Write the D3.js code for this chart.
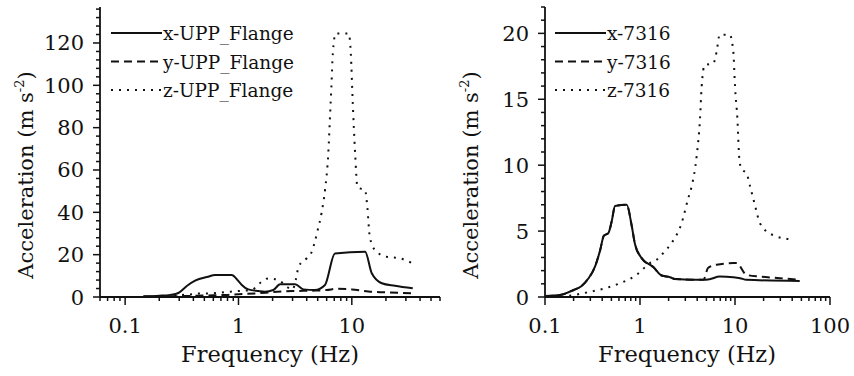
<!DOCTYPE html>
<html>
<head>
<meta charset="utf-8">
<script src="https://cdn.jsdelivr.net/npm/d3@7"></script>
<style>
  body { margin: 0; background: #fff; }
  svg text { font-family: "DejaVu Serif", serif; fill: #111; }
</style>
</head>
<body>
<div id="chart"></div>
<script>
// ---- left panel: UPP_Flange ----
const upFreqX = [0.145, 0.2, 0.25, 0.295, 0.35, 0.414, 0.54, 0.62, 0.87, 1.0, 1.07, 1.22, 1.5, 1.71, 2.03, 2.33, 3.16, 3.74, 4.73, 5.8, 7.1, 13.1, 15.0, 18.4, 24, 34.5];
const upValX = [0.3, 0.6, 1.0, 1.9, 5.2, 7.7, 9.6, 10.4, 10.4, 7.5, 5.7, 3.6, 2.8, 2.5, 3.3, 6.0, 6.0, 3.6, 3.3, 5.7, 20.6, 21.4, 11.2, 6.5, 5.3, 4.1];
const upFreqY = [0.145, 0.3, 0.5, 0.8, 1.0, 1.5, 2.0, 3.0, 4.5, 6.0, 7.5, 10, 14, 20, 34.5];
const upValY = [0.2, 0.4, 0.7, 1.0, 1.3, 1.8, 2.3, 2.8, 3.0, 3.3, 3.9, 3.6, 2.6, 2.2, 1.7];
const upFreqZ = [0.27, 0.3, 0.39, 0.47, 0.55, 0.66, 0.81, 0.99, 1.3, 1.6, 1.83, 2.25, 2.66, 3.0, 3.2, 3.4, 4.0, 4.4, 5.0, 5.4, 5.8, 6.2, 6.4, 6.6, 6.8, 7.2, 9.4, 9.8, 10.2, 10.7, 11.2, 11.8, 13.1, 13.7, 14.4, 16, 20.3, 26.4, 34.5];
const upValZ = [0.7, 0.9, 1.3, 1.7, 1.7, 2.0, 2.4, 2.8, 3.3, 7.2, 8.8, 8.0, 4.9, 3.5, 8.0, 14.5, 18.3, 21, 31.6, 39.5, 50.5, 67.8, 83.5, 99, 115, 124.5, 124.5, 115, 91.4, 67.8, 52, 51.3, 50.5, 42.6, 28.5, 22.2, 19, 18.3, 15.9];

// ---- right panel: 7316 ----
const s7FreqX = [0.1, 0.144, 0.2, 0.243, 0.286, 0.336, 0.379, 0.417, 0.464, 0.504, 0.546, 0.725, 0.818, 0.886, 1.04, 1.38, 1.69, 2.07, 2.33, 4.66, 5.4, 6.9, 9.6, 11.3, 13.2, 48];
const s7ValX = [0.08, 0.15, 0.53, 0.84, 1.4, 2.3, 3.5, 4.65, 4.85, 5.75, 6.9, 7.0, 5.4, 4.0, 2.95, 2.27, 1.63, 1.5, 1.37, 1.3, 1.35, 1.55, 1.5, 1.43, 1.3, 1.22];
const s7FreqY = [0.1, 0.144, 0.2, 0.243, 0.286, 0.336, 0.379, 0.417, 0.464, 0.504, 0.546, 0.725, 0.818, 0.886, 1.04, 1.38, 1.69, 2.07, 2.33, 4.66, 5.2, 6.4, 9.6, 10.4, 13.2, 18.3, 29.8, 48];
const s7ValY = [0.08, 0.15, 0.53, 0.84, 1.4, 2.3, 3.5, 4.65, 4.85, 5.75, 6.9, 7.0, 5.4, 4.0, 2.95, 2.27, 1.63, 1.5, 1.37, 1.3, 2.2, 2.45, 2.57, 2.57, 1.68, 1.55, 1.43, 1.3];
const s7FreqZ = [0.18, 0.2, 0.3, 0.43, 0.62, 0.92, 1.27, 1.5, 1.76, 2.2, 2.74, 3.22, 3.5, 3.95, 4.28, 4.46, 4.8, 5.9, 6.4, 6.9, 8.8, 9.6, 10, 10.6, 11.1, 11.7, 13.2, 14.4, 16.3, 18.3, 25, 41];
const s7ValZ = [0.1, 0.15, 0.4, 0.66, 1.05, 1.68, 2.57, 2.82, 3.34, 4.2, 5.6, 7.5, 8.4, 10.7, 13.5, 16, 17.6, 17.7, 18.6, 19.9, 19.9, 18.6, 16, 13.5, 10.5, 9.7, 9.4, 8.4, 6.9, 5.6, 4.7, 4.35];

const leftNames = ['x-UPP_Flange', 'y-UPP_Flange', 'z-UPP_Flange'];
const rightNames = ['x-7316', 'y-7316', 'z-7316'];
const leftYTicks = [0, 20, 40, 60, 80, 100, 120];
const rightYTicks = [0, 5, 10, 15, 20];
const xTickLabels = [0.1, 1, 10, 100];

const W = 854, H = 376;
const dashes = [null, '8,5', '2,6'];

const svg = d3.select('#chart').append('svg')
  .attr('width', W).attr('height', H);

function zip(fs, vs) {
  return fs.map((f, i) => ({ f: f, v: vs[i] }));
}

function drawPanel(opt) {
  const x = d3.scaleLog().domain(opt.xDomain).range([opt.left, opt.right]);
  const y = d3.scaleLinear().domain(opt.yDomain).range([297, 7]);
  const g = svg.append('g');

  // x axis: major + minor log ticks, outward
  const lo = opt.xDomain[0], hi = opt.xDomain[1];
  const minor = [];
  for (let e = -2; e <= 2; e++) {
    for (let k = 1; k <= 9; k++) {
      const v = k * Math.pow(10, e);
      if (v >= lo * 0.999 && v <= hi * 1.001) minor.push(v);
    }
  }
  g.append('line')
    .attr('x1', opt.left).attr('x2', opt.right)
    .attr('y1', 297).attr('y2', 297)
    .attr('stroke', '#111').attr('stroke-width', 1.8);
  g.selectAll('.xt').data(minor).join('line')
    .attr('x1', (d) => x(d)).attr('x2', (d) => x(d))
    .attr('y1', 297)
    .attr('y2', (d) => (xTickLabels.includes(+d.toPrecision(3)) ? 305 : 301))
    .attr('stroke', '#111').attr('stroke-width', 1.5);
  g.selectAll('.xl').data(xTickLabels.filter((d) => d >= lo && d <= hi * 1.001)).join('text')
    .attr('x', (d) => x(d)).attr('y', 333)
    .attr('text-anchor', 'middle')
    .style('font-size', '21px')
    .text((d) => String(d));

  // y axis
  const yMinor = d3.range(0, opt.yDomain[1] + 0.001, opt.yMinorStep);
  g.append('line')
    .attr('x1', opt.left).attr('x2', opt.left)
    .attr('y1', 297).attr('y2', 7)
    .attr('stroke', '#111').attr('stroke-width', 1.8);
  g.selectAll('.yt').data(yMinor).join('line')
    .attr('x1', (d) => (opt.yTicks.includes(Math.round(d)) && Math.abs(d - Math.round(d)) < 1e-6 ? opt.left - 7 : opt.left - 4))
    .attr('x2', opt.left)
    .attr('y1', (d) => y(d)).attr('y2', (d) => y(d))
    .attr('stroke', '#111').attr('stroke-width', 1.5);
  g.selectAll('.yl').data(opt.yTicks).join('text')
    .attr('x', opt.left - 16).attr('y', (d) => y(d) + 7.5)
    .attr('text-anchor', 'end')
    .style('font-size', '21px')
    .text((d) => String(d));

  // axis titles
  g.append('text')
    .attr('x', opt.xTitleX).attr('y', 362)
    .attr('text-anchor', 'middle')
    .style('font-size', '22.5px')
    .text('Frequency (Hz)');
  const yt = g.append('text')
    .attr('transform', `translate(${opt.left - 67},175) rotate(-90)`)
    .attr('text-anchor', 'middle')
    .style('font-size', '21px');
  yt.append('tspan').text('Acceleration (m s');
  yt.append('tspan').attr('dy', -9).style('font-size', '13px').text('-2');
  yt.append('tspan').attr('dy', 9).text(')');

  // series
  const line = d3.line()
    .x((d) => x(d.f))
    .y((d) => y(d.v))
    .curve(d3.curveMonotoneX);
  opt.series.forEach((s, i) => {
    g.append('path')
      .datum(s)
      .attr('d', line)
      .attr('fill', 'none')
      .attr('stroke', '#111')
      .attr('stroke-width', 2)
      .attr('stroke-dasharray', dashes[i]);
  });

  // legend
  opt.names.forEach((name, i) => {
    const ly = 33 + i * 28.5;
    g.append('line')
      .attr('x1', opt.legX).attr('x2', opt.legX + 51)
      .attr('y1', ly).attr('y2', ly)
      .attr('stroke', '#111').attr('stroke-width', 2)
      .attr('stroke-dasharray', dashes[i]);
    g.append('text')
      .attr('x', opt.legX + 52).attr('y', ly + 7)
      .style('font-size', '18.5px')
      .text(name);
  });
}

drawPanel({
  left: 100, right: 440, xDomain: [0.06, 60], yDomain: [0, 137],
  yTicks: leftYTicks, yMinorStep: 4, xTitleX: 270, legX: 111,
  names: leftNames,
  series: [zip(upFreqX, upValX), zip(upFreqY, upValY), zip(upFreqZ, upValZ)],
});

drawPanel({
  left: 545, right: 830, xDomain: [0.1, 100], yDomain: [0, 22],
  yTicks: rightYTicks, yMinorStep: 1, xTitleX: 687, legX: 555,
  names: rightNames,
  series: [zip(s7FreqX, s7ValX), zip(s7FreqY, s7ValY), zip(s7FreqZ, s7ValZ)],
});
</script>
</body>
</html>
